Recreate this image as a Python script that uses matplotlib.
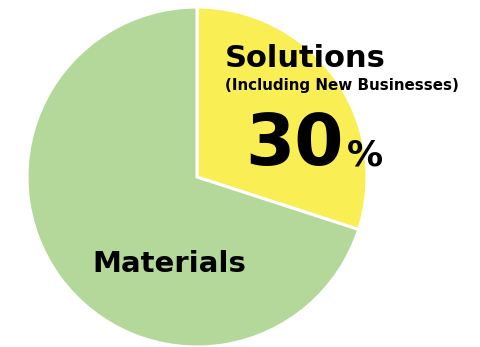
import matplotlib
matplotlib.use("Agg")
import matplotlib.pyplot as plt

# Business share data
segments = ["Solutions", "Materials"]
shares = [30, 70]
colors = ["#F9EF55", "#B4D89A"]

fig = plt.figure(figsize=(4.81, 3.47), dpi=100)
ax = fig.add_axes([0, 0, 1, 1])

# pie drawn in pixel-like coordinates (y up)
ax.pie(shares, colors=colors, startangle=90, counterclock=False,
       center=(197, 347 - 177), radius=170,
       wedgeprops=dict(edgecolor="white", linewidth=2.2))

# pie() resets the limits, so set them afterwards
ax.set_xlim(0, 481)
ax.set_ylim(0, 347)
ax.set_aspect("equal")
ax.axis("off")

bold = dict(fontweight="bold", color="black", family="DejaVu Sans")
ax.text(225, 347 - 67, segments[0], fontsize=22, ha="left", va="baseline", **bold)
ax.text(225, 347 - 90, "(Including New Businesses)", fontsize=10.9, ha="left", va="baseline", **bold)
ax.text(245, 347 - 165, f"{shares[0]}", fontsize=51, ha="left", va="baseline", **bold)
ax.text(347, 347 - 165, "%", fontsize=26, ha="left", va="baseline", **bold)
ax.text(92, 347 - 272, segments[1], fontsize=21, ha="left", va="baseline", **bold)

fig.savefig("out.png", dpi=100)
